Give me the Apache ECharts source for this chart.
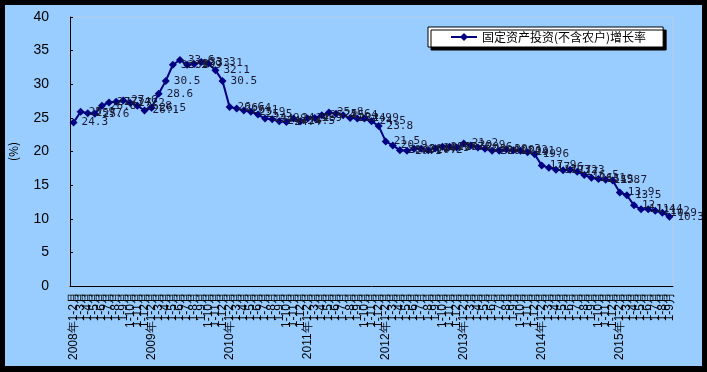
<!DOCTYPE html>
<html>
<head>
<meta charset="utf-8">
<script src="https://cdn.jsdelivr.net/npm/echarts@6/dist/echarts.min.js"></script>
<style>
html,body{margin:0;padding:0;background:#000;}
#c{box-sizing:border-box;width:707px;height:372px;border-style:solid;border-color:#000;border-width:5px 5px 6px 5px;background:#99ccff;}
</style>
</head>
<body>
<div id="c"></div>
<script>
var years = [2008, 2009, 2010, 2011, 2012, 2013, 2014, 2015];
var lastMonth = [12, 12, 12, 12, 12, 12, 12, 9];
var seriesName = '固定资产投资(不含农户)增长率';
var v2008 = [24.3, 25.9, 25.7, 25.6, 26.8, 27.3, 27.4, 27.6, 27.2, 26.8, 26.1];
var v2009 = [26.5, 28.6, 30.5, 32.9, 33.6, 32.9, 33.0, 33.3, 33.1, 32.1, 30.5];
var v2010 = [26.6, 26.4, 26.1, 25.9, 25.5, 24.9, 24.8, 24.5, 24.4, 24.9, 24.5];
var v2011 = [24.9, 25.0, 25.4, 25.8, 25.6, 25.4, 25.0, 24.9, 24.9, 24.5, 23.8];
var v2012 = [21.5, 20.9, 20.2, 20.1, 20.4, 20.4, 20.2, 20.5, 20.7, 20.7, 20.6];
var v2013 = [21.2, 20.9, 20.6, 20.4, 20.1, 20.1, 20.3, 20.2, 20.1, 19.9, 19.6];
var v2014 = [17.9, 17.6, 17.3, 17.2, 17.3, 17.0, 16.5, 16.1, 15.9, 15.8, 15.7];
var v2015 = [13.9, 13.5, 12.0, 11.4, 11.4, 11.2, 10.9, 10.3];
var yTicks = [0, 5, 10, 15, 20, 25, 30, 35, 40];

var categories = [];
years.forEach(function (y, i) {
  for (var m = 2; m <= lastMonth[i]; m++) {
    categories.push(m === 2 ? (y + '年1-2月') : ('1-' + m + '月'));
  }
});
var values = [].concat(v2008, v2009, v2010, v2011, v2012, v2013, v2014, v2015);

var chart = echarts.init(document.getElementById('c'), null, {renderer: 'canvas'});
chart.setOption({
  animation: false,
  backgroundColor: '#99ccff',
  grid: {left: 65, right: 29, top: 12, bottom: 80, containLabel: false, outerBoundsMode: 'none', show: true, borderColor: '#b8cfe4', borderWidth: 1, backgroundColor: 'transparent'},
  legend: {
    left: 423, top: 22,
    padding: [4, 17, 4, 22],
    backgroundColor: '#fff',
    borderColor: '#000', borderWidth: 1,
    shadowColor: '#000', shadowBlur: 0, shadowOffsetX: 3, shadowOffsetY: 3,
    itemWidth: 26, itemHeight: 10,
    textStyle: {fontFamily: 'Noto Sans CJK SC', fontSize: 12, color: '#000'},
    data: [seriesName]
  },
  xAxis: {
    type: 'category',
    data: categories,
    boundaryGap: true,
    axisLine: {lineStyle: {color: '#000', width: 1}},
    axisTick: {inside: true, length: 3, lineStyle: {color: '#000'}},
    axisLabel: {interval: 0, rotate: 90, fontSize: 12, margin: 6, color: '#000', fontFamily: 'Liberation Sans'},
    splitLine: {show: false}
  },
  yAxis: {
    type: 'value',
    min: yTicks[0], max: yTicks[yTicks.length - 1], interval: 5,
    name: '(%)', nameLocation: 'middle', nameRotate: 90, nameGap: 51,
    nameTextStyle: {fontSize: 12, color: '#000', fontFamily: 'Noto Sans CJK SC'},
    axisLine: {show: true, lineStyle: {color: '#000', width: 1}},
    axisTick: {show: true, inside: true, length: 3, lineStyle: {color: '#000'}},
    axisLabel: {fontSize: 14, color: '#000', margin: 21, fontFamily: 'Liberation Sans'},
    splitLine: {show: false}
  },
  series: [{
    name: seriesName,
    type: 'line',
    data: values,
    symbol: 'diamond',
    symbolSize: 8,
    lineStyle: {color: '#000080', width: 2},
    itemStyle: {color: '#000080'},
    label: {show: true, position: 'right', distance: 4, fontSize: 11, color: '#1a1a33', fontFamily: 'DejaVu Sans Mono'}
  }]
});
</script>
</body>
</html>
